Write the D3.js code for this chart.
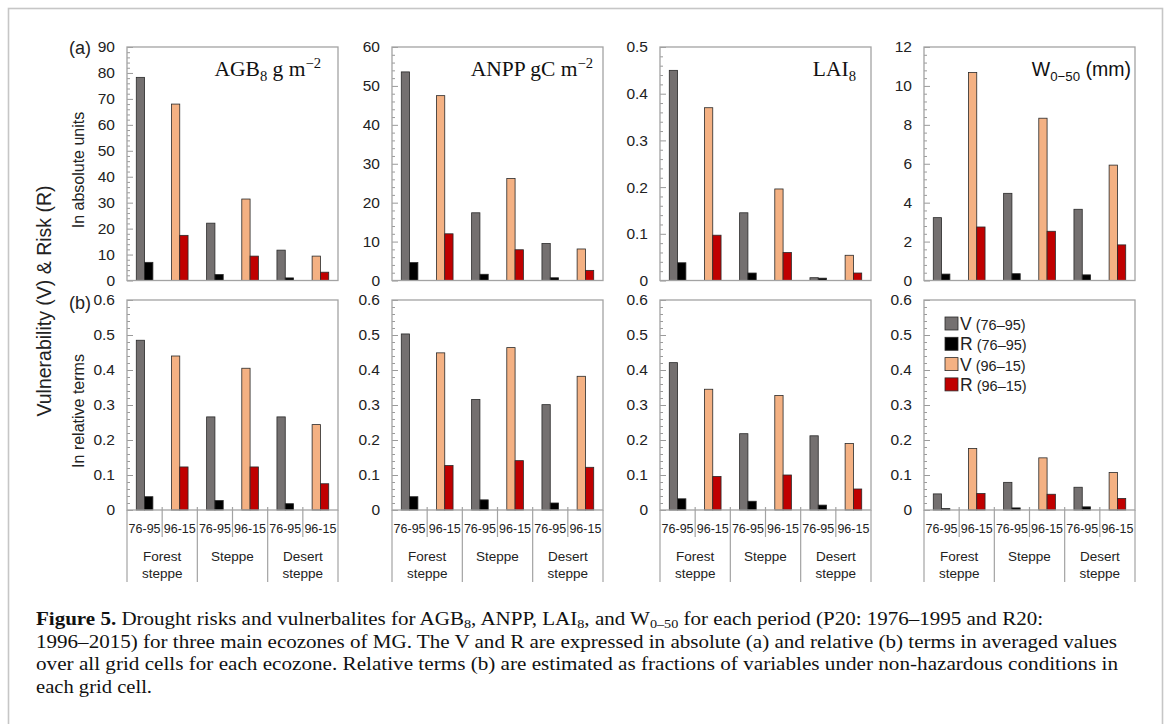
<!DOCTYPE html>
<html><head><meta charset="utf-8">
<script src="https://cdn.jsdelivr.net/npm/d3@7"></script>
<style>body{margin:0;background:#fff} svg{display:block}</style>
</head><body>
<svg id="chart" width="1168" height="724"></svg>
<script>
// ---------------- data ----------------
const ecozones = ["Forest steppe", "Steppe", "Desert steppe"];
const periods = ["76-95", "96-15"];
const seriesKinds = ["V", "R", "V", "R"];
const seriesPeriods = ["(76–95)", "(76–95)", "(96–15)", "(96–15)"];
const seriesColors = ["#747070", "#000000", "#F4B183", "#C00000"];

// (a) absolute units — values per ecozone [Forest steppe, Steppe, Desert steppe]
const agbV7695 = [78.3, 22.1, 11.7];
const agbR7695 = [7.0, 2.3, 1.0];
const agbV9615 = [68.0, 31.4, 9.4];
const agbR9615 = [17.4, 9.4, 3.2];
const anppV7695 = [53.6, 17.4, 9.5];
const anppR7695 = [4.6, 1.6, 0.7];
const anppV9615 = [47.5, 26.2, 8.1];
const anppR9615 = [12.0, 7.9, 2.6];
const laiV7695 = [0.450, 0.145, 0.006];
const laiR7695 = [0.038, 0.016, 0.005];
const laiV9615 = [0.370, 0.196, 0.054];
const laiR9615 = [0.097, 0.060, 0.016];
const wV7695 = [3.23, 4.48, 3.66];
const wR7695 = [0.33, 0.35, 0.29];
const wV9615 = [10.69, 8.34, 5.93];
const wR9615 = [2.75, 2.53, 1.83];

// (b) relative terms
const agbRelV7695 = [0.485, 0.266, 0.266];
const agbRelR7695 = [0.038, 0.027, 0.018];
const agbRelV9615 = [0.440, 0.405, 0.244];
const agbRelR9615 = [0.123, 0.123, 0.075];
const anppRelV7695 = [0.503, 0.316, 0.301];
const anppRelR7695 = [0.038, 0.029, 0.020];
const anppRelV9615 = [0.449, 0.464, 0.382];
const anppRelR9615 = [0.127, 0.141, 0.122];
const laiRelV7695 = [0.421, 0.218, 0.212];
const laiRelR7695 = [0.032, 0.025, 0.014];
const laiRelV9615 = [0.345, 0.327, 0.190];
const laiRelR9615 = [0.096, 0.100, 0.060];
const wRelV7695 = [0.046, 0.079, 0.065];
const wRelR7695 = [0.004, 0.006, 0.009];
const wRelV9615 = [0.176, 0.149, 0.107];
const wRelR9615 = [0.047, 0.045, 0.033];

// tick labels
const ticksAGB = [0, 10, 20, 30, 40, 50, 60, 70, 80, 90];
const ticksANPP = [0, 10, 20, 30, 40, 50, 60];
const ticksLAI = [0, 0.1, 0.2, 0.3, 0.4, 0.5];
const ticksW = [0, 2, 4, 6, 8, 10, 12];
const ticksRel = [0, 0.1, 0.2, 0.3, 0.4, 0.5, 0.6];

// ---------------- layout ----------------
const SANS = "'Liberation Sans', Arial, sans-serif";
const SERIF = "'Liberation Serif', 'Times New Roman', serif";
const panelLefts = [127, 392, 660, 924];
const panelW = 211;
const topRow = {y0: 47, y1: 280.5};
const botRow = {y0: 300, y1: 510};
const titleRight = [321, 593, 856, 1131];

const svg = d3.select("#chart");
svg.append("rect").attr("width", 1168).attr("height", 724).attr("fill", "#fff");
svg.append("rect").attr("x", 8.5).attr("y", 8.5).attr("width", 1154).attr("height", 740)
  .attr("fill", "none").attr("stroke", "#c6c6c6").attr("stroke-width", 1.6);

const topSeries = [
  [agbV7695, agbR7695, agbV9615, agbR9615],
  [anppV7695, anppR7695, anppV9615, anppR9615],
  [laiV7695, laiR7695, laiV9615, laiR9615],
  [wV7695, wR7695, wV9615, wR9615]
];
const botSeries = [
  [agbRelV7695, agbRelR7695, agbRelV9615, agbRelR9615],
  [anppRelV7695, anppRelR7695, anppRelV9615, anppRelR9615],
  [laiRelV7695, laiRelR7695, laiRelV9615, laiRelR9615],
  [wRelV7695, wRelR7695, wRelV9615, wRelR9615]
];
const topTicks = [ticksAGB, ticksANPP, ticksLAI, ticksW];
const decFmt = d => d === 0 ? "0" : d3.format(".1f")(d);
const intFmt = d => String(d);
const topFmts = [intFmt, intFmt, decFmt, intFmt];

function drawPanel(left, row, series, ticks, fmt, withCats) {
  const g = svg.append("g");
  const slots = [];
  ecozones.forEach(e => periods.forEach(p => slots.push(e + "|" + p)));
  const x = d3.scaleBand().domain(slots).range([left, left + panelW]);
  const sw = x.bandwidth();
  const barW = sw * 0.236;
  const xs = d3.scaleBand().domain(["V", "R"]).range([sw / 2 - barW, sw / 2 + barW]);
  const ymax = ticks[ticks.length - 1];
  const y = d3.scaleLinear().domain([0, ymax]).range([row.y1, row.y0]);

  const bars = [];
  ecozones.forEach((e, ei) => periods.forEach((p, pi) => [0, 1].forEach(k => {
    const si = pi * 2 + k;
    bars.push({slot: e + "|" + p, kind: seriesKinds[si], value: series[si][ei], color: seriesColors[si]});
  })));

  g.selectAll("rect.bar").data(bars).join("rect").attr("class", "bar")
    .attr("x", d => x(d.slot) + xs(d.kind))
    .attr("width", xs.bandwidth())
    .attr("y", d => y(d.value))
    .attr("height", d => y(0) - y(d.value))
    .attr("fill", d => d.color)
    .attr("stroke", "#2a2a2a").attr("stroke-width", 0.8);

  // minor ticks
  const step = ticks[1] - ticks[0];
  const minor = d3.range(0, ymax + step / 100, step / 5).filter(v => Math.abs(v / step - Math.round(v / step)) > 1e-6);
  const gm = g.append("g").attr("transform", `translate(${left},0)`)
    .call(d3.axisLeft(y).tickValues(minor).tickSize(-3).tickFormat(""));
  gm.select(".domain").remove();
  gm.selectAll("line").attr("stroke", "#9a9a9a");

  const ga = g.append("g").attr("transform", `translate(${left},0)`)
    .call(d3.axisLeft(y).tickValues(ticks).tickSize(-6).tickPadding(12).tickFormat(fmt));
  ga.select(".domain").remove();
  ga.selectAll("line").attr("stroke", "#9a9a9a");
  ga.selectAll("text").attr("font-family", SANS).attr("font-size", 15.5).attr("fill", "#222");

  // box
  g.append("rect").attr("x", left).attr("y", row.y0).attr("width", panelW).attr("height", row.y1 - row.y0)
    .attr("fill", "none").attr("stroke", "#a3a3a3").attr("stroke-width", 1.3);

  if (withCats) {
    const cg = g.append("g").attr("font-family", SANS).attr("fill", "#222");
    d3.range(7).forEach(i => {
      const xx = left + i * sw;
      const long = i % 2 === 0;
      cg.append("line").attr("x1", xx).attr("x2", xx)
        .attr("y1", i === 0 || i === 6 ? row.y1 : row.y1 - 3)
        .attr("y2", long ? 582 : 537)
        .attr("stroke", "#a3a3a3").attr("stroke-width", 1.2);
    });
    slots.forEach(s => {
      cg.append("text").attr("x", x(s) + sw / 2).attr("y", 533).attr("text-anchor", "middle")
        .attr("font-size", 13.2).attr("textLength", 32).attr("lengthAdjust", "spacingAndGlyphs")
        .attr("fill", "#222").text(s.split("|")[1]);
    });
    ecozones.forEach((e, ei) => {
      const cx = x(e + "|" + periods[0]) + sw;
      const words = e.split(" ");
      const lines = words.length > 1 ? [words[0], words.slice(1).join(" ")] : words;
      lines.forEach((ln, li) => {
        cg.append("text").attr("x", cx).attr("y", 561 + li * 16.5).attr("text-anchor", "middle")
          .attr("font-size", 13.5).text(ln);
      });
    });
  }
  return g;
}

topSeries.forEach((s, i) => drawPanel(panelLefts[i], topRow, s, topTicks[i], topFmts[i], false));
botSeries.forEach((s, i) => drawPanel(panelLefts[i], botRow, s, ticksRel, decFmt, true));

// panel titles
function title(i, parts, family, size) {
  const t = svg.append("text").attr("x", titleRight[i]).attr("y", 76).attr("text-anchor", "end")
    .attr("font-family", family).attr("font-size", size).attr("fill", "#111");
  let shift = 0;
  parts.forEach(p => {
    const ts = t.append("tspan").text(p.t);
    const target = p.sub ? 5 : p.sup ? -8 : 0;
    ts.attr("dy", target - shift);
    shift = target;
    if (p.sub || p.sup) ts.attr("font-size", size * 0.68);
  });
}
title(0, [{t: "AGB"}, {t: "8", sub: 1}, {t: "  g m"}, {t: "−2", sup: 1}], SERIF, 21.5);
title(1, [{t: "ANPP gC m"}, {t: "−2", sup: 1}], SERIF, 21.5);
title(2, [{t: "LAI"}, {t: "8", sub: 1}], SERIF, 21.5);
title(3, [{t: "W"}, {t: "0−50", sub: 1}, {t: " (mm)"}], SANS, 19.5);

// row labels
svg.append("text").attr("x", 69).attr("y", 54).attr("font-family", SANS).attr("font-size", 18).attr("fill", "#222").text("(a)");
svg.append("text").attr("x", 69).attr("y", 309).attr("font-family", SANS).attr("font-size", 18).attr("fill", "#222").text("(b)");

// axis titles
svg.append("text").attr("transform", "translate(51,301) rotate(-90)").attr("text-anchor", "middle")
  .attr("font-family", SANS).attr("font-size", 19.5).attr("fill", "#222").text("Vulnerability (V) & Risk (R)");
svg.append("text").attr("transform", "translate(84,170) rotate(-90)").attr("text-anchor", "middle")
  .attr("font-family", SANS).attr("font-size", 16).attr("fill", "#222").text("In absolute units");
svg.append("text").attr("transform", "translate(84,411) rotate(-90)").attr("text-anchor", "middle")
  .attr("font-family", SANS).attr("font-size", 16).attr("fill", "#222").text("In relative terms");

// legend
const lg = svg.append("g").attr("font-family", SANS).attr("fill", "#222");
seriesKinds.forEach((k, i) => {
  const yy = 317 + i * 20.3;
  lg.append("rect").attr("x", 945).attr("y", yy).attr("width", 13).attr("height", 13)
    .attr("fill", seriesColors[i]).attr("stroke", "#2a2a2a").attr("stroke-width", 0.8);
  const t = lg.append("text").attr("x", 960).attr("y", yy + 13);
  t.append("tspan").attr("font-size", 17.5).text(k);
  t.append("tspan").attr("font-size", 14.5).text(" " + seriesPeriods[i]);
});

// caption
const capLines = [
  {y: 625, len: 1007, parts: [{t: "Figure 5.", b: 1}, {t: " Drought risks and vulnerbalites for AGB"}, {t: "8", sub: 1}, {t: ", ANPP, LAI"}, {t: "8", sub: 1}, {t: ", and W"}, {t: "0–50", sub: 1}, {t: " for each period (P20: 1976–1995 and R20:"}]},
  {y: 647.5, len: 1081, parts: [{t: "1996–2015) for three main ecozones of MG. The V and R are expressed in absolute (a) and relative (b) terms in averaged values"}]},
  {y: 670, len: 1082, parts: [{t: "over all grid cells for each ecozone. Relative terms (b) are estimated as fractions of variables under non-hazardous conditions in"}]},
  {y: 692.5, len: 116, parts: [{t: "each grid cell."}]}
];
capLines.forEach(l => {
  const t = svg.append("text").attr("x", 36).attr("y", l.y).attr("font-family", SERIF)
    .attr("font-size", 18.5).attr("fill", "#111");
  if (l.len) t.attr("textLength", l.len).attr("lengthAdjust", "spacingAndGlyphs");
  let shift = 0;
  l.parts.forEach(p => {
    const ts = t.append("tspan").text(p.t);
    const target = p.sub ? 3 : 0;
    if (target !== shift) ts.attr("dy", target - shift);
    shift = target;
    if (p.sub) ts.attr("font-size", 12.5);
    if (p.b) ts.attr("font-weight", "bold");
  });
});
</script>
</body></html>
